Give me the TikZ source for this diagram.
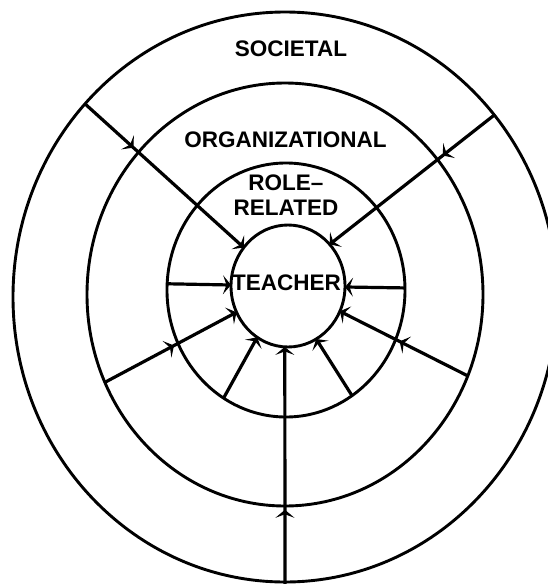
\documentclass[tikz,border=0pt]{standalone}
\usepackage{fontspec}
\setmainfont{Liberation Sans}
\usetikzlibrary{shapes.geometric,arrows.meta,decorations.markings}
\begin{document}
\begin{tikzpicture}[x=1pt,y=-1pt,
  ring/.style={ellipse,draw,line width=2.9pt,inner sep=0pt,outer sep=0pt},
  lbl/.style={font=\bfseries\fontsize{22.5}{24.5}\selectfont,inner sep=0pt,align=center},
  tipshape/.style={-{Stealth[length=8pt,width=19pt,inset=3.5pt]}},
  spoke/.style={line width=3.2pt,tipshape},
  midarrow/.style={postaction={decorate},decoration={markings,mark=at position #1 with {\arrow{Stealth[length=8pt,width=19pt,inset=3.5pt]}}}}
]
\useasboundingbox (0,0) rectangle (548,584);
\clip (0,0) rectangle (548,584);
% rings
\node[ring,minimum width=544pt,minimum height=570pt] (soc) at (285,297) {};
\node[ring,minimum width=396pt,minimum height=423pt] (org) at (285,294.5) {};
\node[ring,minimum width=238pt,minimum height=254pt] (role) at (286,290) {};
\node[ring,minimum width=114pt,minimum height=122pt] (teacher) at (288,286) {};
% labels
\node[lbl] (lsoc) at (291,49) {SOCIETAL};
\node[lbl] (lorg) at (285.5,140) {ORGANIZATIONAL};
\node[lbl] (lrole) at (286,195) {ROLE–\\RELATED};
\node[lbl] (lteach) at (286.5,283) {TEACHER};
\coordinate (base) at (285,590);
% spokes
\draw[spoke,midarrow=0.305] (soc.136.6) -- (teacher.139);
\draw[spoke,midarrow=0.313] (soc.41.9) -- (teacher.45.6);
\draw[spoke] (role.177.5) -- (teacher.179);
\draw[spoke] (role.1.4) -- (teacher.359);
\draw[spoke,midarrow=0.525] (org.206.4) -- (teacher.207.8);
\draw[spoke] (role.240.3) -- (teacher.239.5);
\draw[spoke,midarrow=0.533] (org.336) -- (teacher.334.7);
\draw[spoke] (role.302) -- (teacher.298.2);
\draw[spoke,midarrow=0.33] (base) -- (teacher.267.2);
\end{tikzpicture}
\end{document}
